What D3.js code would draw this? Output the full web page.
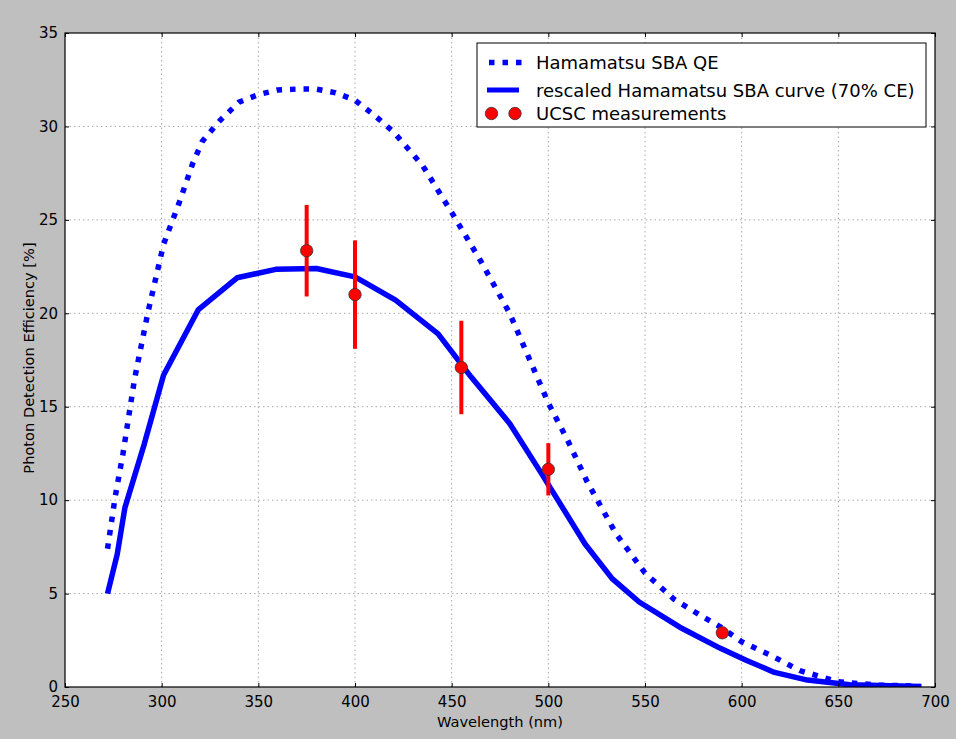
<!DOCTYPE html>
<html lang="en">
<head>
    <meta charset="UTF-8">
    <title>Photon Detection Efficiency</title>
    <style>
        body {
            margin: 0;
            background-color: #bfbfbf;
        }
        svg {
            display: block;
            font-family: "DejaVu Sans", Verdana, sans-serif;
        }
    </style>
    <script src="https://d3js.org/d3.v7.min.js"></script>
</head>
<body>
    <svg width="956" height="739"></svg>
    <script>
        // Hamamatsu SBA QE (dotted)
        const qeWavelength = [272, 276, 280, 286, 293, 301, 309, 316, 321, 330, 340, 350, 360, 370, 380, 390, 400, 410, 420, 435, 450, 465, 480, 490, 500, 510, 520, 535, 550, 565, 580, 590, 600, 615, 630, 650, 670, 692];
        const qeValues = [7.4, 10.2, 12.5, 16.5, 20.1, 23.7, 25.9, 28.0, 29.2, 30.3, 31.3, 31.7, 31.95, 32.0, 32.0, 31.8, 31.4, 30.6, 29.7, 27.9, 25.4, 22.8, 20.0, 17.6, 15.2, 13.2, 11.0, 8.2, 6.1, 4.7, 3.75, 3.15, 2.42, 1.7, 0.88, 0.28, 0.1, 0.05];

        // rescaled curve (solid)
        const ceWavelength = [272, 277, 281, 291, 301, 319, 339, 359, 380, 400, 421, 443, 460, 480, 496, 519, 533, 547, 568, 589, 602, 617, 634, 656, 693];
        const ceValues = [5.0, 7.1, 9.6, 13.0, 16.7, 20.2, 21.9, 22.35, 22.4, 21.95, 20.7, 18.9, 16.6, 14.1, 11.5, 7.65, 5.8, 4.55, 3.2, 2.07, 1.45, 0.78, 0.37, 0.12, 0.03];

        // UCSC measurements
        const measWavelength = [375, 400, 455, 500, 590];
        const measValues = [23.35, 21.0, 17.1, 11.65, 2.9];
        const measErrors = [2.45, 2.9, 2.5, 1.4, 0];

        const xTicks = [250, 300, 350, 400, 450, 500, 550, 600, 650, 700];
        const yTicks = [0, 5, 10, 15, 20, 25, 30, 35];

        const legendLabels = ["Hamamatsu SBA QE", "rescaled Hamamatsu SBA curve (70% CE)", "UCSC measurements"];

        const svg = d3.select("svg");
        const margin = {left: 65, right: 21, top: 33, bottom: 52};
        const width = 956 - margin.left - margin.right;
        const height = 739 - margin.top - margin.bottom;

        const x = d3.scaleLinear().domain([250, 700]).range([0, width]);
        const y = d3.scaleLinear().domain([0, 35]).range([height, 0]);

        const g = svg.append("g").attr("transform", `translate(${margin.left},${margin.top})`);

        g.append("rect")
            .attr("width", width)
            .attr("height", height)
            .attr("fill", "#ffffff");

        g.append("clipPath").attr("id", "clip")
            .append("rect").attr("width", width).attr("height", height);

        // gridlines
        g.selectAll(".vgrid").data(xTicks.slice(1, -1)).enter()
            .append("line")
            .attr("x1", d => x(d)).attr("x2", d => x(d))
            .attr("y1", 0).attr("y2", height)
            .attr("stroke", "#a8a8a8")
            .attr("stroke-width", 1)
            .attr("stroke-dasharray", "1.5,3");

        g.selectAll(".hgrid").data(yTicks.slice(1, -1)).enter()
            .append("line")
            .attr("x1", 0).attr("x2", width)
            .attr("y1", d => y(d)).attr("y2", d => y(d))
            .attr("stroke", "#a8a8a8")
            .attr("stroke-width", 1)
            .attr("stroke-dasharray", "1.5,3");

        const plot = g.append("g").attr("clip-path", "url(#clip)");

        const line = d3.line()
            .x(d => x(d[0]))
            .y(d => y(d[1]));

        plot.append("path")
            .datum(d3.zip(qeWavelength, qeValues))
            .attr("d", line)
            .attr("fill", "none")
            .attr("stroke", "#0000ff")
            .attr("stroke-width", 5.5)
            .attr("stroke-dasharray", "5.5,8");

        plot.append("path")
            .datum(d3.zip(ceWavelength, ceValues))
            .attr("d", line)
            .attr("fill", "none")
            .attr("stroke", "#0000ff")
            .attr("stroke-width", 5.5)
            .attr("stroke-linejoin", "round");

        const meas = d3.zip(measWavelength, measValues, measErrors);

        plot.selectAll(".err").data(meas.filter(d => d[2] > 0)).enter()
            .append("line")
            .attr("x1", d => x(d[0])).attr("x2", d => x(d[0]))
            .attr("y1", d => y(d[1] - d[2]))
            .attr("y2", d => y(d[1] + d[2]))
            .attr("stroke", "#ff0000")
            .attr("stroke-width", 4);

        plot.selectAll(".pt").data(meas).enter()
            .append("circle")
            .attr("cx", d => x(d[0]))
            .attr("cy", d => y(d[1]))
            .attr("r", 6.2)
            .attr("fill", "#ff0000")
            .attr("stroke", "#333")
            .attr("stroke-width", 0.8);

        // axes frame + inward ticks
        const tickLen = 4;
        const axisB = d3.axisBottom(x).tickValues(xTicks).tickSizeInner(-tickLen).tickSizeOuter(0).tickPadding(9);
        const axisT = d3.axisTop(x).tickValues(xTicks).tickSizeInner(-tickLen).tickSizeOuter(0).tickFormat("");
        const axisL = d3.axisLeft(y).tickValues(yTicks).tickSizeInner(-tickLen).tickSizeOuter(0).tickPadding(7);
        const axisR = d3.axisRight(y).tickValues(yTicks).tickSizeInner(-tickLen).tickSizeOuter(0).tickFormat("");

        g.append("g").attr("transform", `translate(0,${height})`).call(axisB);
        g.append("g").call(axisT);
        g.append("g").call(axisL);
        g.append("g").attr("transform", `translate(${width},0)`).call(axisR);

        g.selectAll(".domain").remove();
        g.selectAll(".tick line").attr("stroke", "#000").attr("stroke-width", 1);
        g.selectAll(".tick text")
            .attr("fill", "#000")
            .style("font-size", "15px")
            .style("font-family", "'DejaVu Sans', sans-serif");

        g.append("rect")
            .attr("width", width)
            .attr("height", height)
            .attr("fill", "none")
            .attr("stroke", "#000")
            .attr("stroke-width", 1.2);

        // axis titles
        g.append("text")
            .attr("x", width / 2)
            .attr("y", height + 40)
            .attr("text-anchor", "middle")
            .style("font-size", "14.6px")
            .text("Wavelength (nm)");

        svg.append("text")
            .attr("transform", "translate(34,358) rotate(-90)")
            .attr("text-anchor", "middle")
            .style("font-size", "14.6px")
            .text("Photon Detection Efficiency [%]");

        // legend
        const lg = svg.append("g").attr("transform", "translate(477,43)");
        lg.append("rect")
            .attr("width", 449)
            .attr("height", 84)
            .attr("fill", "#ffffff")
            .attr("stroke", "#000")
            .attr("stroke-width", 1);

        const rowY = [19.5, 47, 70.5];

        lg.append("line")
            .attr("x1", 12).attr("x2", 46)
            .attr("y1", rowY[0]).attr("y2", rowY[0])
            .attr("stroke", "#0000ff")
            .attr("stroke-width", 5.5)
            .attr("stroke-dasharray", "5.5,8");

        lg.append("line")
            .attr("x1", 10).attr("x2", 42)
            .attr("y1", rowY[1]).attr("y2", rowY[1])
            .attr("stroke", "#0000ff")
            .attr("stroke-width", 5);

        lg.selectAll(".lpt").data([14.5, 38]).enter()
            .append("circle")
            .attr("cx", d => d)
            .attr("cy", rowY[2])
            .attr("r", 6.2)
            .attr("fill", "#ff0000")
            .attr("stroke", "#333")
            .attr("stroke-width", 0.8);

        lg.selectAll(".ltxt").data(legendLabels).enter()
            .append("text")
            .attr("x", 59)
            .attr("y", (d, i) => rowY[i] + 6.5)
            .style("font-size", "18px")
            .text(d => d);
    </script>
</body>
</html>
